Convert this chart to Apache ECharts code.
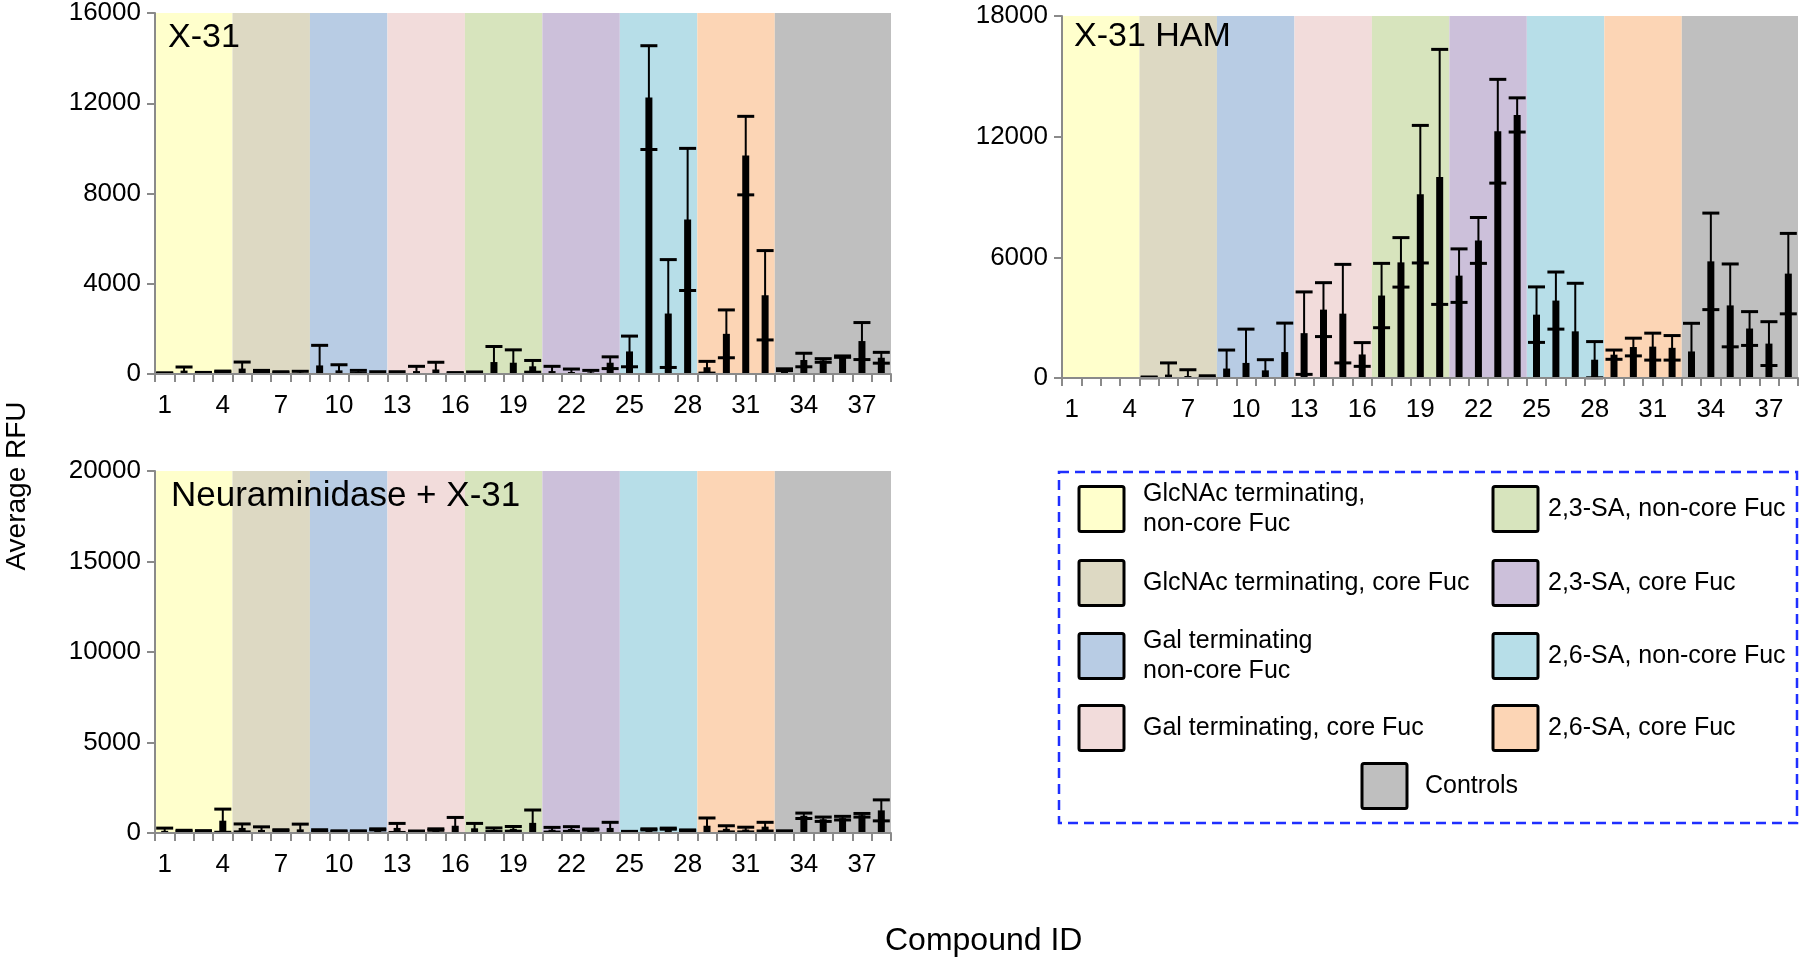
<!DOCTYPE html>
<html><head><meta charset="utf-8">
<script src="https://cdn.jsdelivr.net/npm/echarts@6/dist/echarts.min.js"></script>
<style>html,body{margin:0;padding:0;background:#fff;overflow:hidden}#c{width:1800px;height:961px}</style>
</head><body><div id="c"></div>
<script>
// ---------- data ----------
const categories = ['1','2','3','4','5','6','7','8','9','10','11','12','13','14','15','16','17','18','19','20',
  '21','22','23','24','25','26','27','28','29','30','31','32','33','34','35','36','37','38'];

const groupNames = ['GlcNAc terminating,\nnon-core Fuc','GlcNAc terminating, core Fuc','Gal terminating\nnon-core Fuc',
  'Gal terminating, core Fuc','2,3-SA, non-core Fuc','2,3-SA, core Fuc','2,6-SA, non-core Fuc','2,6-SA, core Fuc','Controls'];
const groupColors = ['#FFFFCC','#DDD9C3','#B8CCE4','#F2DCDB','#D7E4BD','#CCC0DA','#B7DEE8','#FCD5B5','#BFBFBF'];
const groupStart = [1,5,9,13,17,21,25,29,33];
const groupEnd   = [4,8,12,16,20,24,28,32,38];

const x31Mean = [40,150,50,110,240,120,80,60,380,160,90,50,50,130,200,50,40,530,500,
  340,130,90,70,500,1000,12250,2680,6850,300,1780,9680,3490,190,620,600,770,1460,720];
const x31Sd = [10,160,20,20,290,40,20,60,890,250,70,50,50,210,320,10,50,690,570,
  260,210,130,90,260,680,2300,2390,3150,260,1060,1740,1980,40,300,80,30,820,240];

const hamMean = [0,0,0,0,30,170,100,60,470,750,380,1290,2230,3400,3200,1170,4100,5750,9140,
  10000,5090,6840,12270,13080,3150,3850,2320,910,1160,1540,1560,1500,1320,5800,3610,2460,1710,5190];
const hamSd = [0,0,0,0,20,580,310,50,920,1680,530,1440,2050,1340,2450,590,1600,1230,3420,
  6340,1330,1140,2580,850,1380,1420,2390,900,230,440,670,610,1400,2400,2060,840,1090,2000];

const neuMean = [120,120,110,680,280,170,150,200,130,100,100,200,280,90,190,400,260,180,230,
  560,180,220,190,280,70,200,240,150,400,230,190,350,100,950,760,820,980,1250];
const neuSd = [150,30,20,640,220,170,30,290,50,20,20,30,250,20,40,460,270,100,130,
  710,130,130,30,310,20,30,30,20,430,170,130,240,20,150,120,100,100,580];

const panelTitles = ['X-31','X-31 HAM','Neuraminidase + X-31'];
const yMaxes = [16000, 18000, 20000];
const yIntervals = [4000, 6000, 5000];
const yAxisName = 'Average RFU';
const xAxisName = 'Compound ID';

// ---------- layout ----------
const FONT = '"Liberation Sans", Arial, Helvetica, sans-serif';
const grids = [
  {left:155, top:12, width:736, height:362},
  {left:1062, top:16, width:736, height:362},
  {left:155, top:471, width:736, height:362}
];
const panelMeans = [x31Mean, hamMean, neuMean];
const panelSds = [x31Sd, hamSd, neuSd];
const titlePos = [{left:168, top:21}, {left:1074, top:20}, {left:171, top:479}];
const AXIS_COLOR = '#8a8a8a';

function bandSeries(idx){
  const yMax = yMaxes[idx];
  return {
    type:'custom', xAxisIndex:idx, yAxisIndex:idx, z:1, silent:true,
    data: groupStart.map((s,g)=>[s-1, groupEnd[g]-1, g]),
    encode:{x:[0,1]},
    renderItem:(params, api)=>{
      const s = api.value(0), e = api.value(1), g = api.value(2);
      const bw = api.size([1,0])[0];
      const p0 = api.coord([s, yMax]);
      const p1 = api.coord([e, 0]);
      return {type:'rect', shape:{x:p0[0]-bw/2, y:p0[1], width:p1[0]-p0[0]+bw, height:p1[1]-p0[1]},
        style:{fill:groupColors[g]}};
    }
  };
}
function barSeries(idx){
  return {type:'bar', xAxisIndex:idx, yAxisIndex:idx, z:3, barWidth:7, silent:true,
    itemStyle:{color:'#000'}, data: panelMeans[idx]};
}
function errSeries(idx){
  const m = panelMeans[idx], s = panelSds[idx];
  return {
    type:'custom', xAxisIndex:idx, yAxisIndex:idx, z:4, silent:true,
    data: m.map((v,i)=>[i, v, s[i]]),
    encode:{x:0, y:1},
    renderItem:(params, api)=>{
      const i = api.value(0), mv = api.value(1), sv = api.value(2);
      if (!sv) return {type:'group', children:[]};
      const top = api.coord([i, mv+sv]);
      const low = mv - sv;
      const bot = api.coord([i, Math.max(low, 0)]);
      const half = 8.5;
      const ch = [
        {type:'line', shape:{x1:top[0], y1:top[1], x2:bot[0], y2:bot[1]}, style:{stroke:'#000', lineWidth:2}},
        {type:'line', shape:{x1:top[0]-half, y1:top[1], x2:top[0]+half, y2:top[1]}, style:{stroke:'#000', lineWidth:3}}
      ];
      if (low > 0) ch.push({type:'line', shape:{x1:bot[0]-half, y1:bot[1], x2:bot[0]+half, y2:bot[1]}, style:{stroke:'#000', lineWidth:3}});
      return {type:'group', children:ch};
    }
  };
}

const xAxes = grids.map((g,i)=>({
  type:'category', gridIndex:i, data:categories, boundaryGap:true, z:10,
  axisLine:{lineStyle:{color:AXIS_COLOR, width:2}},
  axisTick:{show:true, interval:0, alignWithLabel:false, length:8, lineStyle:{color:AXIS_COLOR, width:2}},
  axisLabel:{interval:2, color:'#000', fontSize:26, fontFamily:FONT, margin:19},
  splitLine:{show:false}
}));
const yAxes = grids.map((g,i)=>({
  type:'value', gridIndex:i, min:0, max:yMaxes[i], interval:yIntervals[i], z:10,
  axisLine:{show:true, lineStyle:{color:AXIS_COLOR, width:2}},
  axisTick:{show:true, length:8, lineStyle:{color:AXIS_COLOR, width:2}},
  axisLabel:{color:'#000', fontSize:26, fontFamily:FONT, margin:14, formatter:(v)=>String(v)},
  splitLine:{show:false}
}));

const series = [];
for (let i=0;i<3;i++){ series.push(bandSeries(i), barSeries(i), errSeries(i)); }

// legend graphic
const legendGraphic = [];
const legendBox = {x:1059, y:472, w:738, h:351};
legendGraphic.push({type:'rect', shape:{x:legendBox.x, y:legendBox.y, width:legendBox.w, height:legendBox.h},
  style:{fill:null, stroke:'#1f2fff', lineWidth:2.5, lineDash:[10,6]}, z:20});
const rowY = [509, 583, 656, 728];
const colSqX = [1079, 1493];
const colTxX = [1143, 1548];
for (let g=0; g<9; g++){
  let sx, tx, cy;
  if (g < 8){ const col = g < 4 ? 0 : 1; const row = g % 4; sx = colSqX[col]; tx = colTxX[col]; cy = rowY[row]; }
  else { sx = 1362; tx = 1425; cy = 786; }
  legendGraphic.push({type:'rect', shape:{x:sx, y:cy-22.5, width:45, height:45, r:2},
    style:{fill:groupColors[g], stroke:'#000', lineWidth:3}, z:20});
  legendGraphic.push({type:'text', x:tx, y:cy, z:20,
    style:{text:groupNames[g], fill:'#000', font:'25px ' + FONT, lineHeight:30, align:'left', verticalAlign:'middle'}});
}
legendGraphic.push({type:'text', x:17, y:486, rotation:Math.PI/2, z:20,
  style:{text:yAxisName, fill:'#000', font:'28px ' + FONT, align:'center', verticalAlign:'middle'}});
legendGraphic.push({type:'text', x:885, bottom:4, z:20,
  style:{text:xAxisName, fill:'#000', font:'32px ' + FONT, align:'left', verticalAlign:'top'}});

const chart = echarts.init(document.getElementById('c'), null, {renderer:'canvas'});
chart.setOption({
  animation:false,
  backgroundColor:'#fff',
  title: panelTitles.map((t,i)=>({text:t, left:titlePos[i].left, top:titlePos[i].top, padding:0, z:12,
    textStyle:{fontSize:i===2?35:34, fontWeight:'normal', color:'#000', fontFamily:FONT}})),
  grid: grids.map(g=>Object.assign({containLabel:false, show:false}, g)),
  xAxis: xAxes,
  yAxis: yAxes,
  series: series,
  graphic: legendGraphic
});
</script>
</body></html>
